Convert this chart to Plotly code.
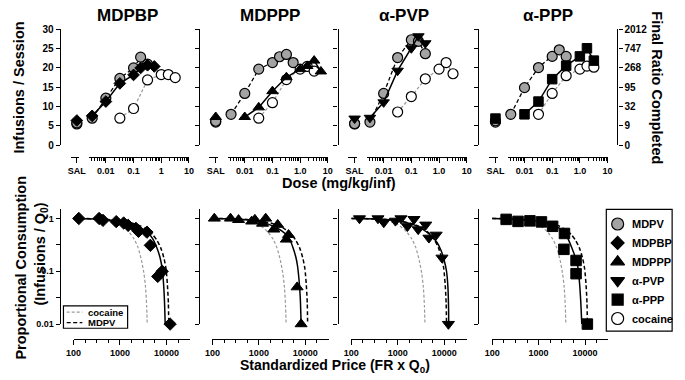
import math
import plotly.graph_objects as go

W, H = 685, 380
FONT = "Liberation Sans, Arial, Helvetica, sans-serif"

# ---------------- Top row: dose-effect (infusions / session) ----------------
panel_titles = ["MDPBP", "MDPPP", "α-PVP", "α-PPP"]
dose_ticks = [0.01, 0.1, 1, 10]
dose_ticktext_first = ["0.01", "0.1", "1", "10"]
dose_ticktext_other = ["0.01", "0.1", "1.0", "10"]
sal_label = ["SAL"]
infusion_ticks = [0, 5, 10, 15, 20, 25, 30]
final_ratio_labels = ["0", "9", "32", "95", "268", "747", "2012"]

sal_mdpv = [5.8, 6.2, 5.6, 6.3]
sal_test = [6.4, 7.3, 6.9, 6.9]
sal_cocaine = [5.5, 6.0, 5.5, 6.0]

mdpbp_mdpv_dose = [0.0032, 0.01, 0.032, 0.1, 0.18, 0.32]
mdpbp_mdpv_inf = [7.0, 12.2, 17.3, 20.0, 22.8, 21.0]
mdpbp_dose = [0.0032, 0.01, 0.032, 0.1, 0.18, 0.32, 0.56]
mdpbp_inf = [7.6, 11.3, 16.0, 18.2, 20.0, 20.7, 20.4]
mdpbp_coc_dose = [0.032, 0.1, 0.32, 1.0, 1.8, 3.2]
mdpbp_coc_inf = [7.0, 9.5, 16.9, 18.3, 18.3, 17.5]

mdppp_mdpv_dose = [0.0032, 0.01, 0.032, 0.1, 0.18, 0.32, 0.56]
mdppp_mdpv_inf = [8.0, 13.4, 19.7, 21.4, 22.9, 23.5, 21.4]
mdppp_dose = [0.01, 0.032, 0.1, 0.32, 1.0, 1.8, 3.2, 5.6]
mdppp_inf = [7.3, 9.8, 14.0, 17.6, 19.7, 20.5, 21.9, 19.1]
mdppp_coc_dose = [0.032, 0.1, 0.32, 1.0, 1.8, 3.2]
mdppp_coc_inf = [7.0, 11.0, 17.0, 19.7, 20.4, 19.2]

apvp_mdpv_dose = [0.0032, 0.01, 0.032, 0.1, 0.18, 0.32]
apvp_mdpv_inf = [6.0, 13.4, 22.7, 27.3, 26.9, 23.7]
apvp_dose = [0.0032, 0.01, 0.032, 0.1, 0.18, 0.32]
apvp_inf = [7.1, 11.1, 19.3, 25.1, 28.2, 26.4]
apvp_coc_dose = [0.032, 0.1, 0.32, 1.0, 1.8, 3.2]
apvp_coc_inf = [8.6, 12.6, 17.2, 19.7, 21.4, 18.5]

appp_mdpv_dose = [0.0032, 0.01, 0.032, 0.1, 0.18, 0.32]
appp_mdpv_inf = [8.0, 14.9, 20.1, 23.0, 24.7, 23.0]
appp_dose = [0.01, 0.032, 0.1, 0.32, 1.0, 1.8, 3.2]
appp_inf = [8.0, 11.3, 17.1, 20.6, 23.0, 25.1, 21.9]
appp_coc_dose = [0.032, 0.1, 0.32, 1.0, 1.8, 3.2]
appp_coc_inf = [8.0, 13.4, 18.0, 19.7, 20.5, 20.2]

# ---------------- Bottom row: demand (proportional consumption) ----------------
price_ticks = [100, 1000, 10000]
price_ticktext = ["100", "1000", "10000"]
consumption_ticks = [0.01, 0.1, 1]
consumption_ticktext = ["0.01", "0.1", "1"]
consumption_half_ticks = [0.0316, 0.316]

cocaine_fit_price = [100, 300, 600, 1000, 1600, 2000, 2450, 2900, 3250, 3550, 3750, 3850]
cocaine_fit_cons = [1.0, 0.97, 0.9, 0.77, 0.54, 0.41, 0.28, 0.16, 0.095, 0.05, 0.022, 0.01]
mdpv_fit_price = [100, 400, 1000, 1800, 2650, 3700, 5000, 6300, 7500, 8800, 9800, 10500, 11000, 11200]
mdpv_fit_cons = [1.0, 0.98, 0.9, 0.82, 0.73, 0.62, 0.5, 0.38, 0.28, 0.18, 0.11, 0.055, 0.025, 0.01]

mdpbp_price = [130, 355, 430, 830, 1200, 1500, 2200, 2500, 3800, 4500, 6500, 8100, 12000]
mdpbp_cons = [1.0, 1.0, 0.92, 0.87, 0.82, 0.74, 0.65, 0.57, 0.55, 0.31, 0.08, 0.10, 0.01]
mdpbp_fit_price = [100, 400, 1000, 1800, 2700, 3900, 5000, 6300, 7300, 8100, 8700, 9100, 9400]
mdpbp_fit_cons = [1.0, 0.97, 0.88, 0.78, 0.67, 0.55, 0.42, 0.27, 0.18, 0.11, 0.055, 0.025, 0.01]

mdppp_price = [110, 245, 365, 700, 820, 1200, 1400, 2090, 2540, 3900, 4350, 6650, 8100]
mdppp_cons = [1.0, 1.0, 0.94, 0.88, 0.95, 0.80, 1.0, 0.62, 0.76, 0.40, 0.49, 0.05, 0.01]
mdppp_fit_price = [100, 400, 1000, 1600, 2250, 3100, 3970, 4800, 5500, 6200, 6750, 7300, 7800, 8100]
mdppp_fit_cons = [1.0, 0.97, 0.87, 0.78, 0.68, 0.58, 0.48, 0.37, 0.27, 0.19, 0.13, 0.07, 0.03, 0.01]

apvp_price = [150, 375, 500, 890, 1170, 1610, 2230, 2750, 4000, 4680, 6700, 8940, 12300]
apvp_cons = [1.0, 1.0, 0.84, 0.9, 1.0, 0.71, 0.97, 0.62, 0.76, 0.43, 0.49, 0.18, 0.01]
apvp_fit_price = [100, 400, 1000, 2000, 3000, 4100, 5500, 7000, 8500, 10000, 11200, 12000, 12400, 12500]
apvp_fit_cons = [1.0, 0.98, 0.9, 0.78, 0.67, 0.56, 0.45, 0.35, 0.25, 0.16, 0.1, 0.05, 0.02, 0.01]

appp_price = [200, 360, 650, 1150, 2000, 3600, 3500, 6400, 6400, 11200]
appp_cons = [0.96, 0.88, 0.9, 0.86, 0.71, 0.52, 0.26, 0.16, 0.09, 0.01]
appp_fit_price = [100, 400, 1000, 1800, 2700, 3500, 4300, 5250, 6200, 7000, 7600, 8100, 8500]
appp_fit_cons = [1.0, 0.97, 0.88, 0.78, 0.66, 0.55, 0.41, 0.27, 0.18, 0.12, 0.06, 0.025, 0.01]

legend_names = ["MDPV", "MDPBP", "MDPPP", "α-PVP", "α-PPP", "cocaine"]
legend_symbols = ["circle", "diamond", "triangle-up", "triangle-down", "square", "circle"]
legend_fills = ["#a3a3a3", "black", "black", "black", "black", "white"]
legend_sizes = [12, 10, 12, 12, 11, 12]
fit_legend_names = ["cocaine", "MDPV"]

# ---------------- styling / layout helpers ----------------
GRAY = "#a3a3a3"
COC_LINE = "#9a9a9a"
test_symbols = ["diamond", "triangle-up", "triangle-down", "square"]
test_size_top = [9, 10, 10, 9.5]
test_size_bot = [9.5, 10.5, 10.5, 10.5]
Y_POS = [53, 195, 337, 481]


def fx(p):
    return p / W


def fy(p):
    return 1 - p / H


lay = dict(width=W, height=H, margin=dict(l=0, r=0, t=0, b=0), paper_bgcolor="white",
           plot_bgcolor="rgba(0,0,0,0)", showlegend=False,
           font=dict(family=FONT, color="black"))
counter = {"x": 0, "y": 0}


def add_axis(kind, spec):
    counter[kind] += 1
    k = counter[kind]
    suffix = "" if k == 1 else str(k)
    lay[kind + "axis" + suffix] = spec
    return kind + suffix


def ax(**kw):
    d = dict(showline=True, linecolor="black", linewidth=1.3, showgrid=False, zeroline=False,
             ticks="outside", tickcolor="black", tickwidth=1.3, ticklen=4, anchor="free",
             tickfont=dict(family=FONT, size=9, color="black", weight="bold"), fixedrange=True)
    d.update(kw)
    return d


fig = go.Figure()
annotations = []
shapes = []

top_sets = [
    (mdpbp_mdpv_dose, mdpbp_mdpv_inf, mdpbp_dose, mdpbp_inf, mdpbp_coc_dose, mdpbp_coc_inf),
    (mdppp_mdpv_dose, mdppp_mdpv_inf, mdppp_dose, mdppp_inf, mdppp_coc_dose, mdppp_coc_inf),
    (apvp_mdpv_dose, apvp_mdpv_inf, apvp_dose, apvp_inf, apvp_coc_dose, apvp_coc_inf),
    (appp_mdpv_dose, appp_mdpv_inf, appp_dose, appp_inf, appp_coc_dose, appp_coc_inf),
]
bot_sets = [
    (mdpbp_price, mdpbp_cons, mdpbp_fit_price, mdpbp_fit_cons),
    (mdppp_price, mdppp_cons, mdppp_fit_price, mdppp_fit_cons),
    (apvp_price, apvp_cons, apvp_fit_price, apvp_fit_cons),
    (appp_price, appp_cons, appp_fit_price, appp_fit_cons),
]
title_x = [122, 268, 405, 552]

minor_dose = [m * 10 ** e for e in range(-3, 1) for m in range(2, 10) if 0.0025 <= m * 10 ** e <= 10]
minor_price = [10 ** (2 + q / 4) for q in range(1, 10) if q % 4]

top_y_ids = []
top_x_ids = []
for i, Y in enumerate(Y_POS):
    mdose, minf, tdose, tinf, cdose, cinf = top_sets[i]
    yid = add_axis("y", ax(domain=[fy(144), fy(25)], range=[0, 30], tickvals=infusion_ticks,
                           showticklabels=(i == 0), position=fx(Y),
                           tickfont=dict(family=FONT, size=10, color="black", weight="bold")))
    top_y_ids.append(yid)
    xid = add_axis("x", ax(domain=[fx(Y + 30), fx(Y + 132)], type="log",
                           range=[math.log10(0.0025), 1], tickvals=dose_ticks,
                           ticktext=dose_ticktext_first if i == 0 else dose_ticktext_other,
                           position=fy(155.7), ticklen=5,
                           minor=dict(tickvals=minor_dose, ticks="outside", ticklen=3,
                                      tickcolor="black", tickwidth=1, showgrid=False)))
    top_x_ids.append(xid)
    sid = add_axis("x", ax(domain=[fx(Y + 11), fx(Y + 19.5)], type="category",
                           categoryarray=sal_label, range=[-0.75, 0.25], position=fy(155.7), ticklen=5))

    # cocaine
    fig.add_trace(go.Scatter(x=sal_label, y=[sal_cocaine[i]], xaxis=sid, yaxis=yid, mode="markers",
                             marker=dict(symbol="circle", size=10, color="white", line=dict(color="black", width=1.2)),
                             cliponaxis=False))
    fig.add_trace(go.Scatter(x=cdose, y=cinf, xaxis=xid, yaxis=yid, mode="lines+markers",
                             line=dict(color=COC_LINE, width=1.2, dash="3px,2px"),
                             marker=dict(symbol="circle", size=10, color="white", line=dict(color="black", width=1.2)),
                             cliponaxis=False))
    # MDPV
    fig.add_trace(go.Scatter(x=sal_label, y=[sal_mdpv[i]], xaxis=sid, yaxis=yid, mode="markers",
                             marker=dict(symbol="circle", size=10, color=GRAY, line=dict(color="black", width=1.2)),
                             cliponaxis=False))
    fig.add_trace(go.Scatter(x=mdose, y=minf, xaxis=xid, yaxis=yid, mode="lines+markers",
                             line=dict(color="black", width=1.3, dash="4px,2.5px"),
                             marker=dict(symbol="circle", size=10, color=GRAY, line=dict(color="black", width=1.2)),
                             cliponaxis=False))
    # test drug
    fig.add_trace(go.Scatter(x=sal_label, y=[sal_test[i]], xaxis=sid, yaxis=yid, mode="markers",
                             marker=dict(symbol=test_symbols[i], size=test_size_top[i], color="black",
                                         line=dict(color="black", width=1)),
                             cliponaxis=False))
    fig.add_trace(go.Scatter(x=tdose, y=tinf, xaxis=xid, yaxis=yid, mode="lines+markers",
                             line=dict(color="black", width=1.5),
                             marker=dict(symbol=test_symbols[i], size=test_size_top[i], color="black",
                                         line=dict(color="black", width=1)),
                             cliponaxis=False))

    annotations.append(dict(x=fx(title_x[i]), y=fy(11), xref="paper", yref="paper", text=panel_titles[i],
                            showarrow=False, xanchor="center", yanchor="middle",
                            font=dict(family=FONT, size=17, color="black", weight="bold")))

# right-hand "Final Ratio Completed" axis (same scale as infusions; ratio labels)
ry = add_axis("y", ax(overlaying=top_y_ids[3], side="right", position=fx(623), range=[0, 30],
                      tickvals=infusion_ticks, ticktext=final_ratio_labels,
                      tickfont=dict(family=FONT, size=10, color="black", weight="bold")))
fig.add_trace(go.Scatter(x=[None], y=[None], xaxis=top_x_ids[3], yaxis=ry, mode="markers",
                         hoverinfo="skip"))

for i, Y in enumerate(Y_POS):
    price, cons, fprice, fcons = bot_sets[i]
    yb = add_axis("y", ax(domain=[fy(327.7), fy(210)], type="log", range=[-2, 0.17],
                          tickvals=consumption_ticks, ticktext=consumption_ticktext,
                          showticklabels=(i == 0), position=fx(Y),
                          minor=dict(tickvals=consumption_half_ticks, ticks="outside", ticklen=4,
                                     tickcolor="black", tickwidth=1.3, showgrid=False)))
    xb = add_axis("x", ax(domain=[fx(Y + 14), fx(Y + 14 + 118.75)], type="log", range=[2, 4.5],
                          tickvals=price_ticks, ticktext=price_ticktext, position=fy(342.7), ticklen=5,
                          minor=dict(tickvals=minor_price, ticks="outside", ticklen=3,
                                     tickcolor="black", tickwidth=1, showgrid=False)))
    fig.add_trace(go.Scatter(x=cocaine_fit_price, y=cocaine_fit_cons, xaxis=xb, yaxis=yb, mode="lines",
                             line=dict(color=COC_LINE, width=1.2, dash="3px,2px", shape="spline", smoothing=0.6)))
    fig.add_trace(go.Scatter(x=mdpv_fit_price, y=mdpv_fit_cons, xaxis=xb, yaxis=yb, mode="lines",
                             line=dict(color="black", width=1.5, dash="4px,2.5px", shape="spline", smoothing=0.6)))
    fig.add_trace(go.Scatter(x=fprice, y=fcons, xaxis=xb, yaxis=yb, mode="lines",
                             line=dict(color="black", width=1.5, shape="spline", smoothing=0.6)))
    fig.add_trace(go.Scatter(x=price, y=cons, xaxis=xb, yaxis=yb, mode="markers",
                             marker=dict(symbol=test_symbols[i], size=test_size_bot[i], color="black",
                                         line=dict(color="black", width=1)),
                             cliponaxis=False))

# right legend (markers on a hidden helper axis)
lx = add_axis("x", dict(domain=[fx(611.7), fx(679)], range=[-1, 4.8], visible=False, anchor="free",
                        position=0, fixedrange=True))
ly = add_axis("y", dict(domain=[fy(335), fy(210)], range=[5.67, -0.77], visible=False, anchor="free",
                        position=0, fixedrange=True))
for k, name in enumerate(legend_names):
    fig.add_trace(go.Scatter(x=[0], y=[k], xaxis=lx, yaxis=ly, mode="markers",
                             marker=dict(symbol=legend_symbols[k], size=legend_sizes[k], color=legend_fills[k],
                                         line=dict(color="black", width=1.2)),
                             cliponaxis=False))
    annotations.append(dict(x=1.05, y=k, xref=lx, yref=ly, text=name, showarrow=False,
                            xanchor="left", yanchor="middle",
                            font=dict(family=FONT, size=11, color="black", weight="bold")))
shapes.append(dict(type="rect", xref="paper", yref="paper", x0=fx(611.7), x1=fx(679), y0=fy(335), y1=fy(210),
                   line=dict(color="black", width=1.2), fillcolor="rgba(0,0,0,0)", layer="below"))

# bottom-left fit legend
shapes.append(dict(type="rect", xref="paper", yref="paper", x0=fx(56.7), x1=fx(122.3), y0=fy(332), y1=fy(309),
                   line=dict(color="black", width=1.2), fillcolor="white", layer="above"))
fit_rows = [315.5, 326.2]
shapes.append(dict(type="line", xref="paper", yref="paper", x0=fx(60), x1=fx(76), y0=fy(fit_rows[0]),
                   y1=fy(fit_rows[0]), line=dict(color=COC_LINE, width=1.2, dash="3px,2px")))
shapes.append(dict(type="line", xref="paper", yref="paper", x0=fx(60), x1=fx(76), y0=fy(fit_rows[1]),
                   y1=fy(fit_rows[1]), line=dict(color="black", width=1.4, dash="4px,2.5px")))
for txt, yy in zip(fit_legend_names, fit_rows):
    annotations.append(dict(x=fx(81), y=fy(yy), xref="paper", yref="paper", text=txt, showarrow=False,
                            xanchor="left", yanchor="middle", borderpad=0,
                            font=dict(family=FONT, size=9.5, color="black", weight="bold")))

# axis titles
title_font = dict(family=FONT, size=14.5, color="black", weight="bold")
annotations += [
    dict(x=fx(11), y=fy(85), xref="paper", yref="paper", text="Infusions / Session", textangle=-90,
         showarrow=False, xanchor="center", yanchor="middle", font=title_font),
    dict(x=fx(664), y=fy(85), xref="paper", yref="paper", text="Final Ratio Completed", textangle=90,
         showarrow=False, xanchor="center", yanchor="middle", font=title_font),
    dict(x=fx(338), y=fy(183), xref="paper", yref="paper", text="Dose (mg/kg/inf)",
         showarrow=False, xanchor="center", yanchor="middle", font=title_font),
    dict(x=fx(13), y=fy(270), xref="paper", yref="paper", text="Proportional Consumption", textangle=-90,
         showarrow=False, xanchor="center", yanchor="middle", font=title_font),
    dict(x=fx(34), y=fy(256), xref="paper", yref="paper", text="(Infusions / Q<sub>0</sub>)", textangle=-90,
         showarrow=False, xanchor="center", yanchor="middle", font=title_font),
    dict(x=fx(334), y=fy(371), xref="paper", yref="paper", text="Standardized Price (FR x Q<sub>0</sub>)",
         showarrow=False, xanchor="center", yanchor="middle", borderpad=0,
         font=dict(family=FONT, size=14, color="black", weight="bold")),
]

lay["annotations"] = annotations
lay["shapes"] = shapes
fig.update_layout(**lay)
fig.write_html("out.html", config={"displayModeBar": False},
               post_script="document.body.style.margin='0';document.body.style.overflow='hidden';")
